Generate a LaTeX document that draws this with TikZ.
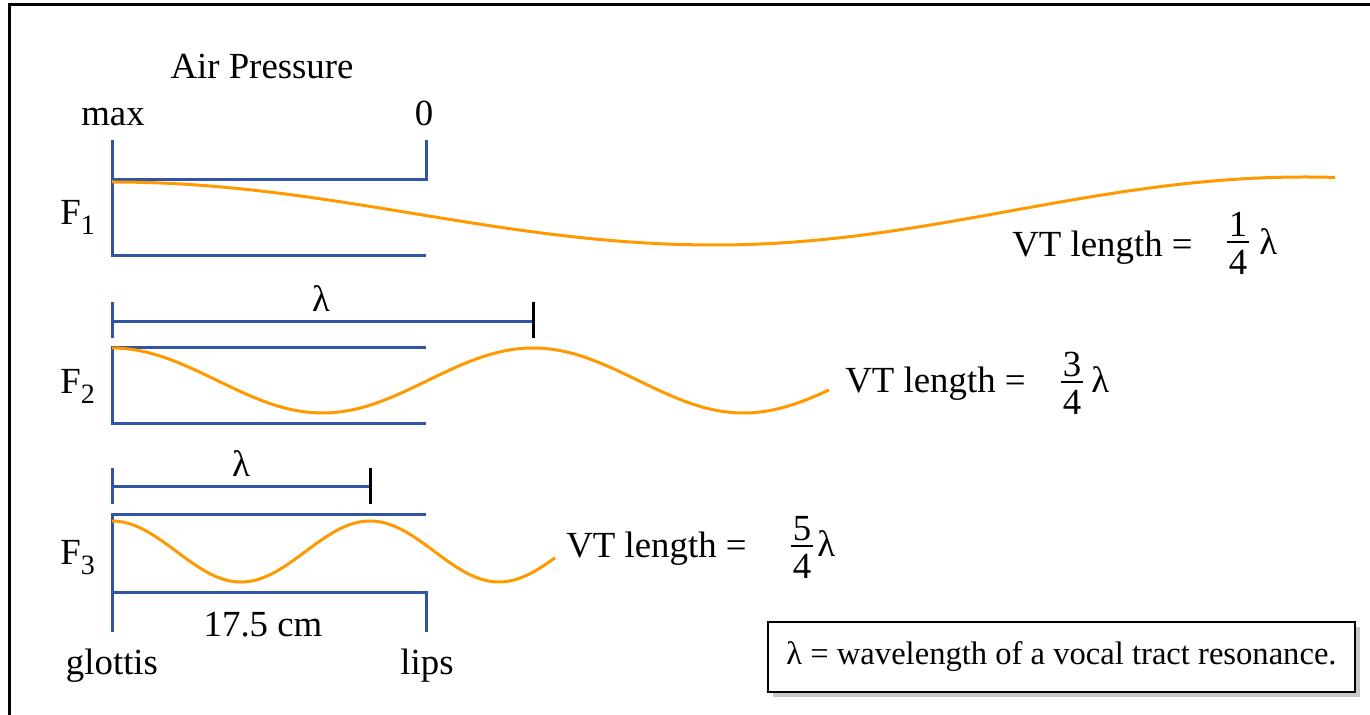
\documentclass[tikz,border=0pt]{standalone}
\usepackage{fontspec}
\setmainfont{Liberation Serif}
\definecolor{tubeblue}{HTML}{2F55A4}
\definecolor{waveorange}{HTML}{FF9900}
\definecolor{shadowgray}{HTML}{C8C8C8}
\newcommand{\subF}[1]{F\raisebox{-5pt}{\fontsize{14}{16}\selectfont #1}}
\begin{document}
\begin{tikzpicture}[x=0.5pt,y=-0.5pt,
  tube/.style={draw=tubeblue, line width=1.5pt},
  tick/.style={draw=black, line width=1.5pt},
  wave/.style={draw=waveorange, line width=1.5pt, line join=round},
  fbar/.style={draw=black, line width=1pt},
  lbl/.style={font=\fontsize{18.4}{22}\selectfont, inner sep=0pt, anchor=base},
  lblw/.style={lbl, anchor=base west},
  legend/.style={draw=black, line width=1.2pt, fill=white, minimum width=293.5pt, minimum height=35pt, inner sep=0pt, font=\fontsize{16.3}{19}\selectfont}]
\useasboundingbox (0,0) rectangle (1370,715);
% outer frame (only top and left edges visible)
\draw[line width=1.5pt] (1372,5) -- (9,5) -- (9,717);

% headings
\node[lbl] (air) at (262,79) {Air Pressure};
\node[lbl] (max) at (113,126) {max};
\node[lbl] (zero) at (424,126) {0};

% ---------- F1 ----------
\node[lblw] (f1) at (60,225) {\subF{1}};
\draw[tube] (112,140) -- (112,256) -- (426,256);
\draw[tube] (112,180) -- (426,180) -- (426,140);
\draw[wave] plot[domain=112:715, samples=120, smooth] (\x,{213.5-31.5*cos((\x-112)/603*180)})
  -- plot[domain=715:1335, samples=120, smooth] (\x,{211+34*cos((\x-715)/590*180)});
\node[lblw] (vt1) at (1012,257) {VT length =};
\node[lbl] (n1) at (1238,237) {1};
\node[lbl] (d1) at (1238,275) {4};
\draw[fbar] (1227,242) -- (1249,242);
\node[lblw] (l1) at (1259,255) {λ};

% ---------- F2 ----------
\node[lblw] (f2) at (60,394) {\subF{2}};
\draw[tube] (112,302) -- (112,338);
\draw[tube] (112,322) -- (533,322);
\draw[tick] (533,302) -- (533,338);
\node[lbl] (lam2) at (321,312) {λ};
\draw[tube] (426,348) -- (112,348) -- (112,424) -- (426,424);
\draw[wave] plot[domain=112:829, samples=200, smooth] (\x,{380.5-32.5*cos((\x-112)/421*360)});
\node[lblw] (vt2) at (845,393) {VT length =};
\node[lbl] (n2) at (1072,377) {3};
\node[lbl] (d2) at (1072,415) {4};
\draw[fbar] (1061,382) -- (1083,382);
\node[lblw] (l2) at (1091,393) {λ};

% ---------- F3 ----------
\node[lblw] (f3) at (60,565) {\subF{3}};
\draw[tube] (112,468) -- (112,504);
\draw[tube] (112,487) -- (370,487);
\draw[tick] (370,468) -- (370,504);
\node[lbl] (lam3) at (241,477) {λ};
\draw[tube] (426,515) -- (112,515) -- (112,632);
\draw[tube] (112,592) -- (426,592) -- (426,632);
\draw[wave] plot[domain=112:555, samples=160, smooth] (\x,{551.5-30.5*cos((\x-112)/258*360)});
\node[lblw] (vt3) at (566,558) {VT length =};
\node[lbl] (n3) at (802,541) {5};
\node[lbl] (d3) at (802,578) {4};
\draw[fbar] (791,546) -- (813,546);
\node[lblw] (l3) at (817,557) {λ};

% bottom labels
\node[lbl] (len) at (263,636) {17.5 cm};
\node[lbl] (glot) at (112,674) {glottis};
\node[lbl] (lips) at (427,674) {lips};

% legend box with shadow
\fill[shadowgray] (773,627) rectangle (1360,697);
\node[legend] (leg) at (1061.5,657) {λ = wavelength of a vocal tract resonance.};
\end{tikzpicture}
\end{document}
